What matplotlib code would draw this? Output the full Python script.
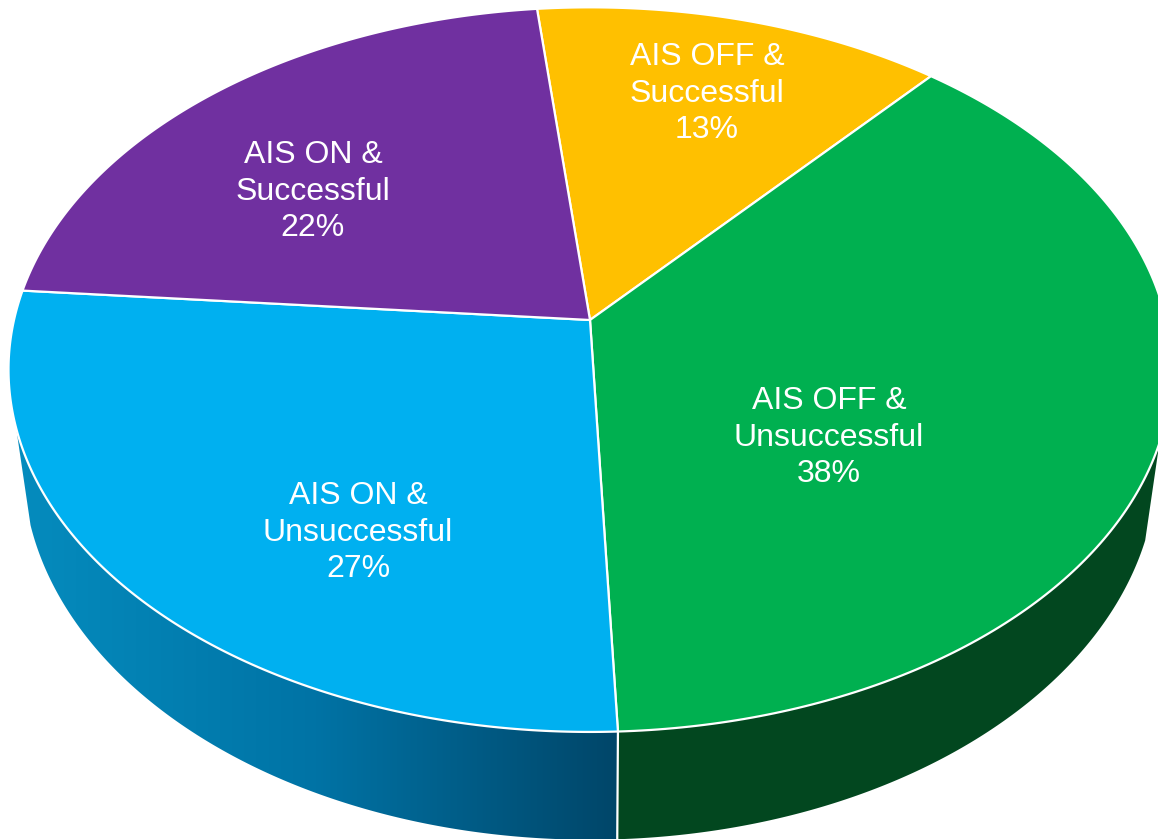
#!/usr/bin/env python
# -*- coding: utf-8 -*-
"""Tilted 3-D style pie of AIS state and outcome shares."""

import numpy as np
import matplotlib.pyplot as plt
from matplotlib.colors import LinearSegmentedColormap
from matplotlib.patches import Polygon

# clockwise from the top
labels = ["AIS OFF &\nSuccessful", "AIS OFF &\nUnsuccessful", "AIS ON &\nUnsuccessful", "AIS ON &\nSuccessful"]
shares = [13, 38, 27, 22]
colors = ["#FFC000", "#00B050", "#00B0F0", "#7030A0"]
label_pos = [(707, 87), (829, 431), (358, 526), (313, 185)]

blue_side = ["#058CBE", "#0073A5", "#004669"]
green_side = "#02471F"

WIDTH, HEIGHT = 1158, 839
APEX_X, APEX_Y = 590, 320
RADIUS_X, RADIUS_Y = 576, 355.5
TILT = 0.137
DEPTH = 93
BASE_SHRINK = 0.975
START_ANGLE = 96
SIDE_LEFT, SIDE_RIGHT = -163, -19.3


def rim(angle_deg):
    """Project angles on the disc to picture coordinates."""
    t = np.radians(angle_deg)
    w = 1 + TILT * np.sin(t)
    return APEX_X + RADIUS_X * np.cos(t) / w, APEX_Y - RADIUS_Y * np.sin(t) / w


def base(angle_deg):
    """Same angles on the lower rim of the pie."""
    x, y = rim(angle_deg)
    w = 1 + TILT * np.sin(np.radians(angle_deg))
    return APEX_X + (x - APEX_X) * BASE_SHRINK, y + DEPTH / w


def side_polygon(a0, a1):
    angles = np.linspace(a0, a1, 200)
    xt, yt = rim(angles)
    xb, yb = base(angles[::-1])
    return np.column_stack([np.r_[xt, xb], np.r_[yt, yb]])


fig = plt.figure(figsize=(WIDTH / 100, HEIGHT / 100), dpi=100)
ax = fig.add_axes([0, 0, 1, 1])
ax.set_xlim(0, WIDTH)
ax.set_ylim(HEIGHT, 0)
ax.axis("off")

edges = START_ANGLE - 3.6 * np.cumsum([0] + shares)

# the front wall splits where the green and blue slices meet
split = edges[2]
green_wall = Polygon(side_polygon(SIDE_RIGHT, split), fc=green_side, ec="none", zorder=1)
ax.add_patch(green_wall)

blue_wall = Polygon(side_polygon(split, SIDE_LEFT), fc="none", ec="none", zorder=1)
ax.add_patch(blue_wall)
cmap = LinearSegmentedColormap.from_list("blue_side", blue_side)
gradient = ax.imshow(
    np.linspace(0, 1, 256).reshape(1, -1),
    cmap=cmap,
    extent=(15, 618, HEIGHT, 0),
    aspect="auto",
    zorder=1,
)
gradient.set_clip_path(blue_wall)
ax.set_xlim(0, WIDTH)
ax.set_ylim(HEIGHT, 0)

# white seam down the wall below the green and blue boundary
x0, y0 = rim(split)
x1, y1 = base(split)
ax.plot([x0, x1], [y0, y1], color="white", lw=1.6, zorder=2)

for i, color in enumerate(colors):
    angles = np.linspace(edges[i], edges[i + 1], 200)
    xs, ys = rim(angles)
    pts = np.column_stack([np.r_[APEX_X, xs], np.r_[APEX_Y, ys]])
    ax.add_patch(Polygon(pts, closed=True, fc=color, ec="white", lw=1.6, joinstyle="round", zorder=3))

for (x, y), label, share in zip(label_pos, labels, shares):
    ax.text(
        x,
        y,
        f"{label}\n{share}%",
        color="white",
        ha="center",
        va="center_baseline",
        fontsize=23,
        family="Liberation Sans",
        linespacing=1.27,
        zorder=4,
    )

fig.savefig("out.png", dpi=100, facecolor="white")
